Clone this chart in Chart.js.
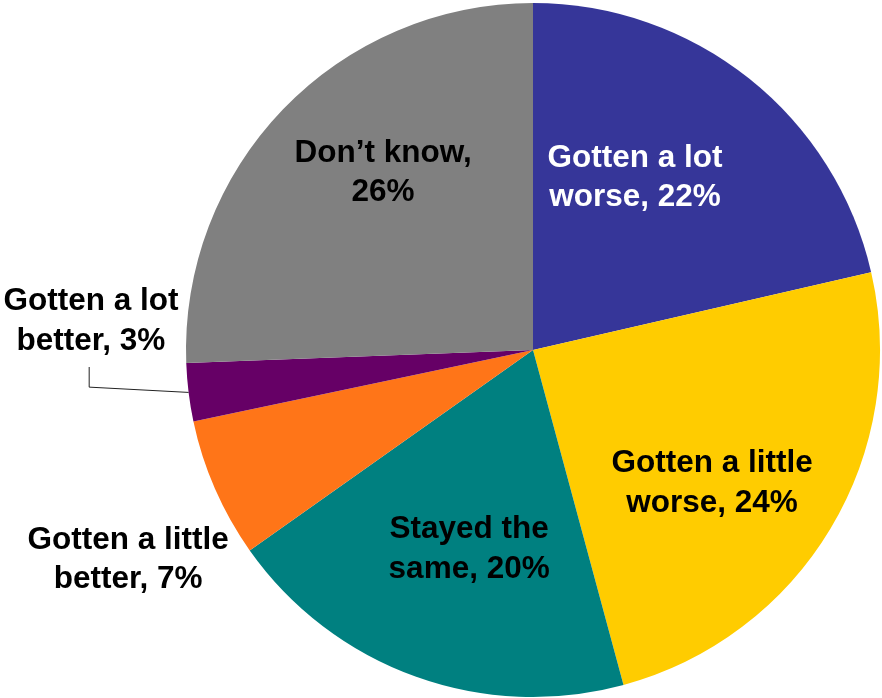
<!DOCTYPE html>
<html>
<head>
<meta charset="utf-8">
<script src="https://cdn.jsdelivr.net/npm/chart.js@4.4.1/dist/chart.umd.min.js"></script>
<style>
  html, body { margin: 0; padding: 0; background: #ffffff; }
  #wrap { width: 882px; height: 698px; position: relative; }
</style>
</head>
<body>
<div id="wrap"><canvas id="pieChart"></canvas></div>
<script>
// --- Data ---
const categories = ['Gotten a lot worse', 'Gotten a little worse', 'Stayed the same', 'Gotten a little better', 'Gotten a lot better', "Don\u2019t know"];
// slice shares as measured from the slice angles
const shares = [21.4, 24.4, 19.4, 6.5, 2.7, 25.6];
// percentages printed in the labels
const labelPercents = [22, 24, 20, 7, 3, 26];
// label text split into two lines
const labelLines = [
  ['Gotten a lot', 'worse, 22%'],
  ['Gotten a little', 'worse, 24%'],
  ['Stayed the', 'same, 20%'],
  ['Gotten a little', 'better, 7%'],
  ['Gotten a lot', 'better, 3%'],
  ["Don\u2019t know,", '26%']
];

// --- Style ---
const sliceColors = ['#363699', '#FFCC00', '#008080', '#FF7518', '#660066', '#808080'];
const labelColors = ['#ffffff', '#000000', '#000000', '#000000', '#000000', '#000000'];
// label block centres as offsets from the pie centre, in units of radius
const labelOffsets = [
  [0.294, -0.496],
  [0.516, 0.384],
  [-0.184, 0.574],
  [-1.167, 0.604],
  [-1.274, -0.083],
  [-0.432, -0.510]
];

// Labels and leader line drawn after the slices
const sliceLabels = {
  id: 'sliceLabels',
  afterDatasetsDraw(chart) {
    const ctx = chart.ctx;
    const arcs = chart.getDatasetMeta(0).data;
    const first = arcs[0];
    const cx = first.x, cy = first.y, r = first.outerRadius;

    // leader line for the small slice
    const small = arcs[4];
    const mid = (small.startAngle + small.endAngle) / 2;
    const ex = cx + Math.cos(mid) * r;
    const ey = cy + Math.sin(mid) * r;
    ctx.save();
    ctx.strokeStyle = '#222222';
    ctx.lineWidth = 1;
    ctx.beginPath();
    ctx.moveTo(ex, ey);
    ctx.lineTo(cx - 1.279 * r, cy + 0.107 * r);
    ctx.lineTo(cx - 1.279 * r, cy + 0.049 * r);
    ctx.stroke();

    ctx.font = 'bold 31.5px "Liberation Sans", Arial, sans-serif';
    ctx.textAlign = 'center';
    ctx.textBaseline = 'middle';
    const lineH = 39.5;
    labelLines.forEach((lines, i) => {
      const bx = cx + labelOffsets[i][0] * r;
      const by = cy + labelOffsets[i][1] * r;
      ctx.fillStyle = labelColors[i];
      lines.forEach((txt, k) => {
        ctx.fillText(txt, bx, by + (k - (lines.length - 1) / 2) * lineH);
      });
    });
    ctx.restore();
  }
};

new Chart(document.getElementById('pieChart'), {
  type: 'pie',
  data: {
    labels: categories,
    datasets: [{
      data: shares,
      backgroundColor: sliceColors,
      borderWidth: 0
    }]
  },
  options: {
    responsive: true,
    maintainAspectRatio: false,
    animation: false,
    layout: { padding: { top: 3, bottom: 1, left: 186, right: 2 } },
    plugins: {
      legend: { display: false },
      tooltip: { enabled: false }
    }
  },
  plugins: [sliceLabels]
});
</script>
</body>
</html>
